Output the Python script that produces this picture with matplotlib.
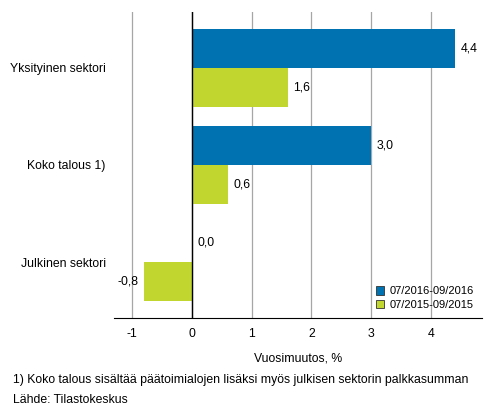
import matplotlib
matplotlib.use("Agg")
import matplotlib.pyplot as plt
import numpy as np

categories = ["Yksityinen sektori", "Koko talous 1)", "Julkinen sektori"]
series_names = ["07/2016-09/2016", "07/2015-09/2015"]
values_2016 = [4.4, 3.0, 0.0]
values_2015 = [1.6, 0.6, -0.8]
x_ticks = [-1, 0, 1, 2, 3, 4]

blue = "#0072b1"
green = "#c1d72f"

plt.rcParams["font.family"] = ["Liberation Sans", "DejaVu Sans"]
plt.rcParams["font.size"] = 8.8

fig = plt.figure(figsize=(4.93, 4.16), dpi=100)
ax = fig.add_axes([0.2312, 0.2356, 0.7465, 0.7356])

pos = np.arange(len(categories))
h = 0.4
bars_a = ax.barh(pos - h / 2, values_2016, h, color=blue, label=series_names[0])
bars_b = ax.barh(pos + h / 2, values_2015, h, color=green, label=series_names[1])

def fmt(v):
    return f"{v:.1f}".replace(".", ",")

for bars, vals in ((bars_a, values_2016), (bars_b, values_2015)):
    for b, v in zip(bars, vals):
        y = b.get_y() + b.get_height() / 2
        if v < 0:
            ax.annotate(fmt(v), (v, y), xytext=(-4, 0), textcoords="offset points",
                        ha="right", va="center")
        else:
            ax.annotate(fmt(v), (v, y), xytext=(4, 0), textcoords="offset points",
                        ha="left", va="center")

ax.set_xlim(-1.3, 4.85)
ax.set_ylim(2.57, -0.57)
ax.set_xticks(x_ticks)
ax.set_xticklabels([str(t) for t in x_ticks])
ax.set_yticks(pos)
ax.set_yticklabels(categories)
ax.tick_params(axis="both", length=0, pad=6)
ax.tick_params(axis="x", pad=7)

ax.grid(axis="x", color="#a6a6a6", linewidth=0.9)
ax.set_axisbelow(True)
ax.axvline(0, color="black", linewidth=1, zorder=3)
for s in ("top", "right", "left"):
    ax.spines[s].set_visible(False)
ax.spines["bottom"].set_color("black")
ax.spines["bottom"].set_zorder(4)

ax.set_xlabel("Vuosimuutos, %", labelpad=9)

leg = ax.legend(loc="lower right", frameon=False, fontsize=8, handlelength=0.75,
                handleheight=0.75, handletextpad=0.45, labelspacing=0.3,
                borderaxespad=0.35)
for p in leg.get_patches():
    p.set_edgecolor("#333333")
    p.set_linewidth(0.6)

fig.text(13 / 493, 1 - 380 / 416, "1) Koko talous sisältää päätoimialojen lisäksi myös julkisen sektorin palkkasumman",
         ha="left", va="center")
fig.text(13 / 493, 1 - 400 / 416, "Lähde: Tilastokeskus", ha="left", va="center")

fig.savefig("out.png", dpi=100)
